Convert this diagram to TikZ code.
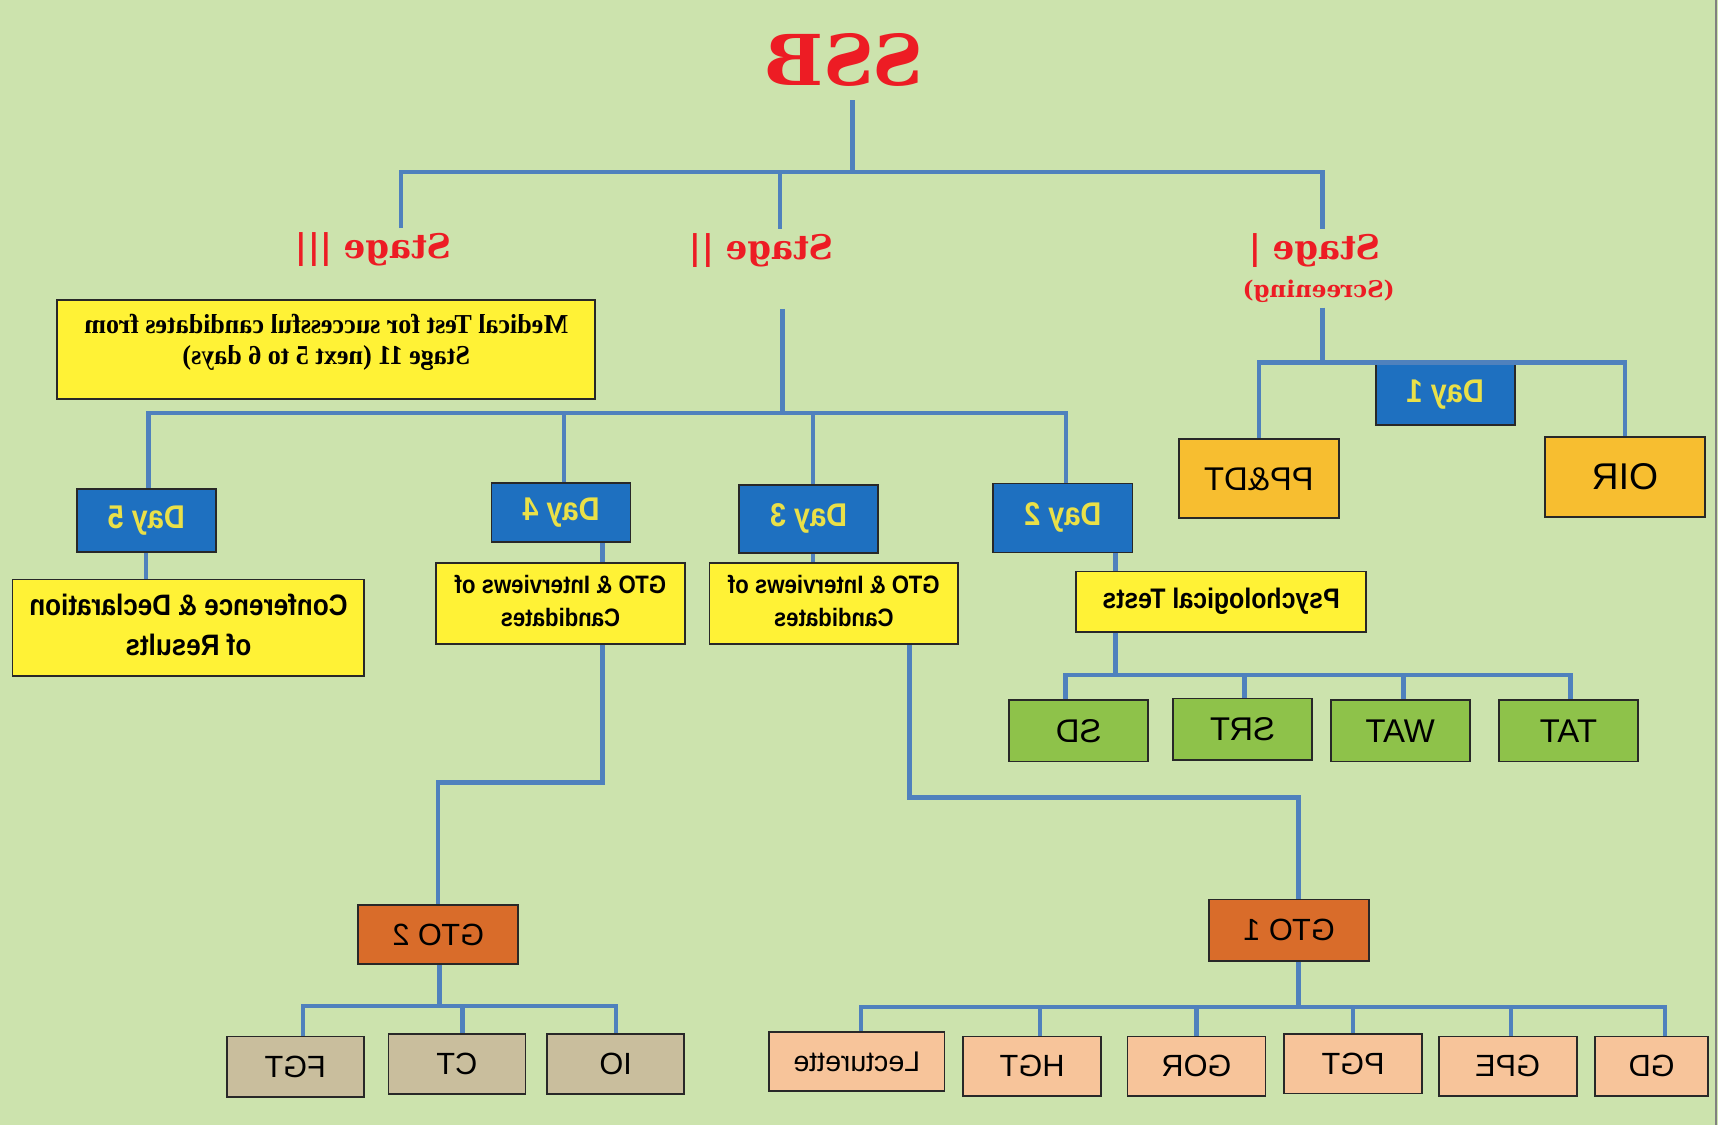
\documentclass[tikz,border=0pt]{standalone}
\usepackage{fontspec}
\usepackage{graphicx}
\setmainfont{Liberation Sans}
\newfontfamily\slabfont{DejaVu Serif}
\newfontfamily\medfont[FakeStretch=0.95]{Liberation Serif}
\newfontfamily\boxfont[FakeStretch=0.88]{Liberation Sans}
\definecolor{bg}{RGB}{204,227,173}
\definecolor{lineblue}{RGB}{79,129,189}
\definecolor{dayblue}{RGB}{30,112,192}
\definecolor{daytext}{RGB}{234,224,72}
\definecolor{yel}{RGB}{255,242,54}
\definecolor{amber}{RGB}{247,190,48}
\definecolor{leaf}{RGB}{142,194,74}
\definecolor{rust}{RGB}{217,108,42}
\definecolor{tan}{RGB}{201,190,157}
\definecolor{peach}{RGB}{247,196,154}
\definecolor{ssbred}{RGB}{237,28,36}
\definecolor{edge}{RGB}{40,40,40}
\newcommand{\flip}[1]{\reflectbox{#1}}
\newcommand{\fliptwo}[2]{\reflectbox{\begin{tabular}{@{}c@{}}#1\\#2\end{tabular}}}

\begin{document}
\begin{tikzpicture}[x=0.5pt,y=-0.5pt,
    link/.style={draw=lineblue,line width=2pt,line join=miter},
    box/.style={draw=edge,line width=0.8pt,inner sep=0pt,minimum width=63.5pt,minimum height=28pt},
    daybox/.style={box,fill=dayblue,text=daytext,font=\boxfont\bfseries\fontsize{15}{17}\selectfont},
    notebox/.style={box,fill=yel,font=\boxfont\bfseries\fontsize{11.5}{15}\selectfont},
    testbox/.style={box,fill=leaf,font=\fontsize{15}{17}\selectfont},
    gtobox/.style={box,fill=rust,minimum width=73pt,font=\fontsize{14}{16}\selectfont},
    taskbox/.style={box,fill=tan,minimum width=62.5pt,minimum height=27.5pt,font=\fontsize{14}{16}\selectfont},
    peachbox/.style={box,fill=peach,minimum width=63pt,minimum height=27pt,font=\fontsize{14}{16}\selectfont},
    stagetext/.style={text=ssbred,inner sep=2pt,font=\slabfont\bfseries\fontsize{15.5}{17}\selectfont}]
\fill[bg] (0,0) rectangle (1568,1027);
\useasboundingbox (0,0) rectangle (1568,1027);
\draw[gray,line width=1pt] (1566,0) -- (1566,1027);
% headings
\node[text=ssbred,inner sep=6pt,font=\slabfont\bfseries\fontsize{32}{36}\selectfont] (ssb) at (770,55) {\flip{SSB}};
\node[stagetext] (st3) at (341,228) {\flip{Stage |||}};
\node[stagetext] (st2) at (695,229) {\flip{Stage ||}};
\node[stagetext] (st1) at (1200,229) {\flip{Stage |}};
\node[stagetext,font=\slabfont\bfseries\fontsize{10.5}{12}\selectfont] (scr) at (1203.5,266) {\flip{(Screening)}};
\node[box,fill=yel,minimum width=245.5pt,minimum height=45pt,font=\medfont\bfseries\fontsize{12.5}{14}\selectfont] (med) at (297.8,319)
    {\fliptwo{Medical Test for successful candidates from}{Stage 11 (next 5 to 6 days)}\rule[-17pt]{0pt}{17pt}};
% stage I
\node[daybox,minimum height=28pt] (d1) at (1319,360) {\flip{Day 1}};
\node[box,fill=amber,minimum width=73pt,minimum height=36pt,font=\fontsize{15}{17}\selectfont] (ppdt) at (1149,437) {\flip{PP\&DT}};
\node[box,fill=amber,minimum width=73pt,minimum height=36.5pt,font=\fontsize{17}{19}\selectfont] (oir) at (1483,435.5) {\flip{OIR}};
% days
\node[daybox,minimum height=29pt] (d5) at (133.5,475) {\flip{Day 5}};
\node[daybox,minimum height=27pt] (d4) at (512,468) {\flip{Day 4}};
\node[daybox,minimum height=31pt] (d3) at (738,473.5) {\flip{Day 3}};
\node[daybox,minimum height=31.5pt] (d2) at (970,472.7) {\flip{Day 2}};
\node[notebox,minimum width=160.5pt,minimum height=44pt,font=\boxfont\bfseries\fontsize{13.5}{18}\selectfont] (conf) at (172,573) {\fliptwo{Conference \& Declaration}{of Results}};
\node[notebox,minimum width=113.5pt,minimum height=37pt] (g4) at (511.5,551) {\fliptwo{GTO \& Interviews of}{Candidates}};
\node[notebox,minimum width=113.5pt,minimum height=37pt] (g3) at (761,551) {\fliptwo{GTO \& Interviews of}{Candidates}};
\node[notebox,minimum width=132.5pt,minimum height=27.5pt,font=\boxfont\bfseries\fontsize{12.9}{15}\selectfont] (psy) at (1114.5,549) {\flip{Psychological Tests}};
% psychological tests
\node[testbox] (sd) at (984.5,667) {\flip{SD}};
\node[testbox] (srt) at (1134,665.5) {\flip{SRT}};
\node[testbox] (wat) at (1278,667) {\flip{WAT}};
\node[testbox] (tat) at (1431.5,667) {\flip{TAT}};
% GTO
\node[gtobox,minimum height=27pt] (gto2) at (400,853) {\flip{GTO 2}};
\node[gtobox] (gto1) at (1176.5,849) {\flip{GTO 1}};
\node[taskbox] (fgt) at (269.5,973.5) {\flip{FGT}};
\node[taskbox] (ct) at (417,971) {\flip{CT}};
\node[taskbox] (io) at (562,971) {\flip{IO}};
\node[peachbox,minimum width=80pt,font=\fontsize{13}{15}\selectfont] (lect) at (782,969) {\flip{Lecturette}};
\node[peachbox] (hgt) at (942,973) {\flip{HGT}};
\node[peachbox] (gor) at (1092,973) {\flip{GOR}};
\node[peachbox] (pgt) at (1235,971) {\flip{PGT}};
\node[peachbox] (gpe) at (1376,973) {\flip{GPE}};
\node[peachbox,minimum width=51.5pt] (gd) at (1507.5,973) {\flip{GD}};
% junctions
\coordinate (j0) at (778,157);
\coordinate (b3) at (366,157);
\coordinate (b2) at (712,157);
\coordinate (b1) at (1207,157);
\coordinate (j1) at (1207,331);
\coordinate (s2) at (714,282);
\coordinate (j2) at (714,377);
\coordinate (k2) at (1018,616);
\coordinate (k4) at (550,714);
\coordinate (k3) at (830,728);
\coordinate (k3b) at (1185,728);
\coordinate (m2) at (401,918);
\coordinate (m1) at (1185,919);
% connectors
\draw[link] (ssb.south -| j0) -- (j0);
\draw[link] (b3 |- st3.north) -- (b3) -- (b1) -- (b1 |- st1.north);
\draw[link] (b2) -- (b2 |- st2.north);
\draw[link] (scr.south -| j1) -- (j1);
\draw[link] (ppdt.north) |- (j1) -| (oir.north);
\draw[link] (s2) -- (j2);
\draw[link] ([xshift=1pt]d5.north) |- (j2) -| ([xshift=1.5pt]d2.north);
\draw[link] ([xshift=1.5pt]d4.north) -- ([xshift=1.5pt]d4.north |- j2);
\draw[link] ([xshift=2pt]d3.north) -- ([xshift=2pt]d3.north |- j2);
\draw[link] (d5.south) -- (d5.south |- conf.north);
\draw[link] (d4.south -| k4) -- (g4.north -| k4);
\draw[link] ([xshift=2pt]d3.south) -- ([xshift=2pt]d3.south |- g3.north);
\draw[link] (d2.south -| k2) -- (psy.north -| k2);
\draw[link] (psy.south -| k2) -- (k2);
\draw[link] ([xshift=-6pt]sd.north) |- (k2) -| ([xshift=1pt]tat.north);
\draw[link] ([xshift=1pt]srt.north) -- ([xshift=1pt]srt.north |- k2);
\draw[link] ([xshift=1.5pt]wat.north) -- ([xshift=1.5pt]wat.north |- k2);
\draw[link] (g4.south -| k4) -- (k4) -| (gto2.north);
\draw[link] (g3.south -| k3) -- (k3) -- (k3b) -- (k3b |- gto1.north);
\draw[link] (gto2.south -| m2) -- (m2);
\draw[link] ([xshift=3.5pt]fgt.north) |- (m2) -| (io.north);
\draw[link] ([xshift=2.5pt]ct.north) -- ([xshift=2.5pt]ct.north |- m2);
\draw[link] (gto1.south -| m1) -- (m1);
\draw[link] ([xshift=2pt]lect.north) |- (m1) -| ([xshift=6pt]gd.north);
\draw[link] ([xshift=3.5pt]hgt.north) -- ([xshift=3.5pt]hgt.north |- m1);
\draw[link] (gor.north) -- (gor.north |- m1);
\draw[link] (pgt.north) -- (pgt.north |- m1);
\draw[link] ([xshift=1.5pt]gpe.north) -- ([xshift=1.5pt]gpe.north |- m1);
\end{tikzpicture}
\end{document}
